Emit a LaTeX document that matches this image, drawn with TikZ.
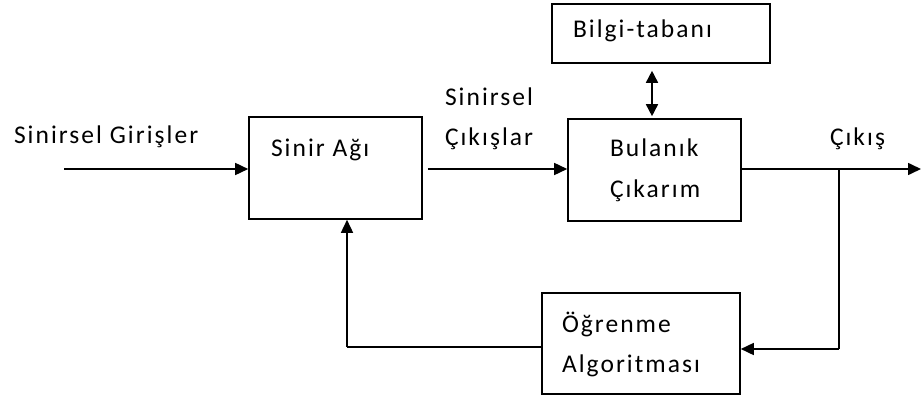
\documentclass[tikz,border=0pt]{standalone}
\usepackage{fontspec}
\setmainfont{Carlito}[LetterSpace=8]
\usetikzlibrary{arrows.meta}
\begin{document}
\begin{tikzpicture}[x=1pt,y=-1pt,
  box/.style={draw,line width=1.6pt,minimum width=#1,inner sep=0pt},
  lbl/.style={anchor=base west,inner sep=0pt,outer sep=0pt,font=\fontsize{25.5}{30}\selectfont},
  conn/.style={line width=1.6pt,-{Triangle[length=13pt,width=12pt]}},
  wire/.style={line width=1.6pt}]
  \useasboundingbox (0,0) rectangle (921,396);

  % blocks
  \node[box=173pt,minimum height=102pt] (sinir)   at (335.5,168) {};
  \node[box=173pt,minimum height=102pt] (bulanik) at (654.5,170) {};
  \node[box=218pt,minimum height=59pt]  (bilgi)   at (661,33.5) {};
  \node[box=198pt,minimum height=101pt] (ogrenme) at (641,343.5) {};

  % texts
  \node[lbl] (tin)  at (14,143)  {Sinirsel Girişler};
  \node[lbl] (tna)  at (271,156) {Sinir Ağı};
  \node[lbl] (tso1) at (445,105) {Sinirsel};
  \node[lbl] (tso2) at (445,145) {Çıkışlar};
  \node[lbl] (tbc1) at (610,156) {Bulanık};
  \node[lbl] (tbc2) at (610,197) {Çıkarım};
  \node[lbl] (tkb)  at (573,38)  {Bilgi-tabanı};
  \node[lbl] (tout) at (830,145) {Çıkış};
  \node[lbl] (tla1) at (562,332) {Öğrenme};
  \node[lbl] (tla2) at (562,372) {Algoritması};

  % free ends and junctions
  \coordinate (in)     at (64,169);
  \coordinate (out)    at (921,169);
  \coordinate (branch) at (839,169);
  \coordinate (fbR)    at (839,349);
  \coordinate (fbL)    at (347,347);

  % connectors
  \draw[conn] (in) -- (in -| sinir.west);
  \draw[conn,shorten <=5pt] (sinir.east |- in) -- (bulanik.west |- in);
  \draw[conn] (bulanik.east |- out) -- (out);
  \draw[wire] (branch) -- (fbR);
  \draw[conn] (fbR) -- (fbR -| ogrenme.east);
  \draw[wire] (ogrenme.west |- fbL) -- (fbL);
  \draw[conn] (fbL) -- (fbL |- sinir.south);
  \draw[line width=1.6pt,{Triangle[length=12pt,width=12pt]}-{Triangle[length=12pt,width=12pt]},
        shorten <=7pt,shorten >=2pt]
    ([xshift=-9pt]bilgi.south) -- ([xshift=-2.5pt]bulanik.north);
\end{tikzpicture}
\end{document}
